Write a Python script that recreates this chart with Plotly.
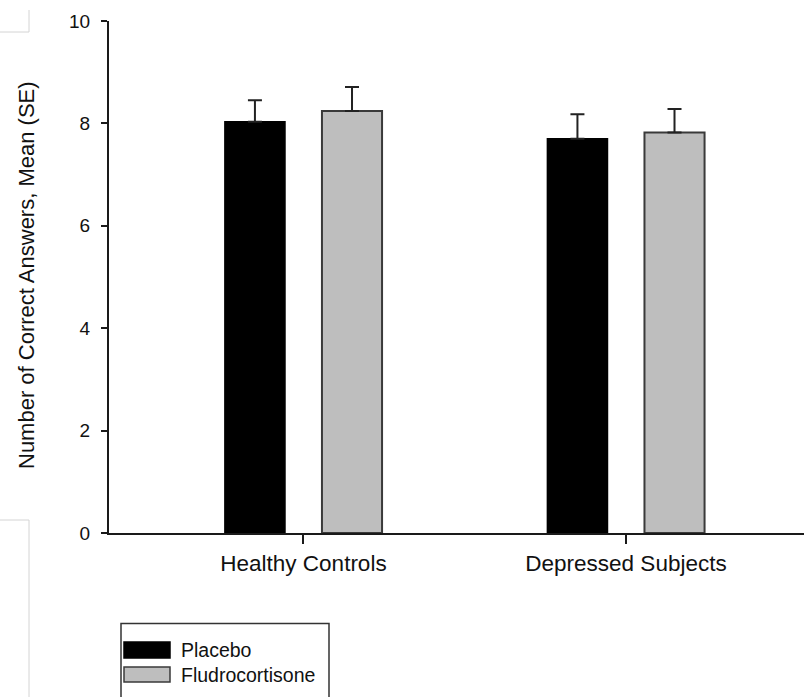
import plotly.graph_objects as go

categories = ["Healthy Controls", "Depressed Subjects"]
placebo_mean = [8.03, 7.70]
placebo_se = [0.42, 0.48]
fludro_mean = [8.24, 7.82]
fludro_se = [0.47, 0.46]
series_names = ["Placebo", "Fludrocortisone"]
y_ticks = [0, 2, 4, 6, 8, 10]

W, H = 804, 697
ML, MR, MT, MB = 109, 0, 21, 164
PW, PH = W - ML - MR, H - MT - MB

def px_x(px):
    return (px - ML) / PW

def px_y(py):
    return (H - MB - py) / PH

FONT = "Liberation Sans, Arial, sans-serif"
AX = "#1a1a1a"

fig = go.Figure()
fig.add_trace(go.Bar(
    x=categories, y=placebo_mean, name=series_names[0],
    marker=dict(color="#000000", line=dict(color="#000000", width=1.5)),
    error_y=dict(type="data", symmetric=False, array=placebo_se,
                 arrayminus=[0] * len(placebo_se), color="#222222",
                 thickness=2, width=7),
    showlegend=False,
))
fig.add_trace(go.Bar(
    x=categories, y=fludro_mean, name=series_names[1],
    marker=dict(color="#bebebe", line=dict(color="#3a3a3a", width=2)),
    error_y=dict(type="data", symmetric=False, array=fludro_se,
                 arrayminus=[0] * len(fludro_se), color="#222222",
                 thickness=2, width=7),
    showlegend=False,
))

shapes = []
annotations = []

# manual legend
shapes.append(dict(type="rect", xref="paper", yref="paper",
                   x0=px_x(121), x1=px_x(329), y0=px_y(700), y1=px_y(623.5),
                   line=dict(color="#333333", width=1.5), fillcolor="white",
                   layer="above"))
legend_rows = [(series_names[0], "#000000", "#000000", 642, 658),
               (series_names[1], "#bebebe", "#3a3a3a", 667, 682)]
for name, fill, edge, y0, y1 in legend_rows:
    shapes.append(dict(type="rect", xref="paper", yref="paper",
                       x0=px_x(124), x1=px_x(170), y0=px_y(y1), y1=px_y(y0),
                       line=dict(color=edge, width=1.5), fillcolor=fill,
                       layer="above"))
    annotations.append(dict(text=name, xref="paper", yref="paper",
                            x=px_x(179), y=px_y((y0 + y1) / 2),
                            xanchor="left", yanchor="middle", showarrow=False,
                            font=dict(family=FONT, size=19.5, color="#111111")))

# faint crop lines at left edge
for (x0, y0, x1, y1) in [(0, 32, 29, 32), (29, 10, 29, 32),
                         (0, 520, 29, 520), (29, 520, 29, 697)]:
    shapes.append(dict(type="line", xref="paper", yref="paper",
                       x0=px_x(x0), x1=px_x(x1), y0=px_y(y0), y1=px_y(y1),
                       line=dict(color="#d4d4d4", width=1)))

# y axis title
annotations.append(dict(text="Number of Correct Answers, Mean (SE)",
                        xref="paper", yref="paper", x=px_x(26), y=px_y(275),
                        xanchor="center", yanchor="middle", textangle=-90,
                        showarrow=False,
                        font=dict(family=FONT, size=22, color="#111111")))

fig.update_layout(
    width=W, height=H,
    margin=dict(l=ML, r=MR, t=MT, b=MB, pad=0),
    paper_bgcolor="white", plot_bgcolor="white",
    barmode="group", bargap=0.398, bargroupgap=0.381,
    showlegend=False,
    shapes=shapes, annotations=annotations,
    font=dict(family=FONT, color="#111111"),
)
fig.update_xaxes(
    type="category", range=[-0.603, 1.552],
    showline=True, linecolor=AX, linewidth=2,
    ticks="outside", ticklen=9, tickwidth=2, tickcolor=AX,
    tickfont=dict(family=FONT, size=22.5, color="#111111"),
    showgrid=False, zeroline=False,
)
fig.update_yaxes(
    range=[0, 10], tickvals=y_ticks, ticktext=[str(t) for t in y_ticks],
    showline=True, linecolor=AX, linewidth=2,
    ticks="outside", ticklen=6, tickwidth=2, tickcolor=AX,
    ticklabelstandoff=7,
    tickfont=dict(family=FONT, size=19, color="#111111"),
    showgrid=False, zeroline=False,
)

fig.write_html("out.html")
